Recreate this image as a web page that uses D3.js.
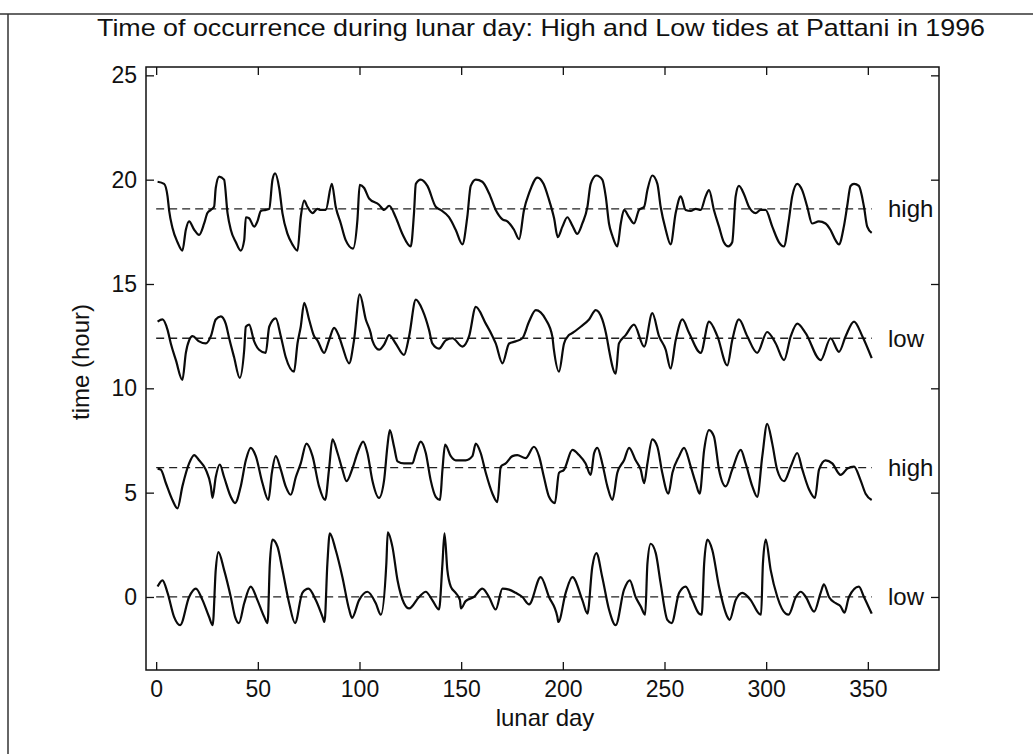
<!DOCTYPE html>
<html>
<head>
<meta charset="utf-8">
<script src="https://cdn.jsdelivr.net/npm/d3@7"></script>
<style>
  body { margin: 0; background: #fff; }
  text { font-family: "Liberation Sans", Arial, sans-serif; fill: #111; }
</style>
</head>
<body>
<svg id="chart" width="1033" height="754"></svg>
<script>
// Tick values and mean levels
const xTicks = [0, 50, 100, 150, 200, 250, 300, 350];
const yTicks = [0, 5, 10, 15, 20, 25];
const meanLevels = [18.6, 12.4, 6.2, 0];
const levelLabels = ["high", "low", "high", "low"];

// Series: [lunar day, hour]
const highLate = [
  [0.7,19.9],[3.9,19.8],[5.6,19.2],[6.4,18.5],[8.0,17.7],[10.5,17.0],[12.9,16.6],[14.6,17.6],[16.2,18.0],
  [18.7,17.6],[21.1,17.35],[23.6,17.9],[25.2,18.4],[26.9,18.55],[28.5,18.7],[29.3,19.6],[31.0,20.15],
  [33.4,20.0],[35.1,18.4],[36.7,17.6],[39.2,17.0],[41.6,16.6],[43.3,17.1],[44.1,18.2],[45.7,18.15],
  [48.2,17.75],[49.8,18.0],[51.5,18.5],[53.9,18.55],[55.6,18.6],[57.2,20.0],[58.5,20.3],[60.5,19.6],
  [62.1,18.4],[64.6,17.4],[67.0,16.9],[69.5,16.6],[71.1,18.2],[72.8,19.0],[74.4,18.7],[76.9,18.4],
  [79.3,18.6],[80.9,18.55],[83.4,18.55],[86.4,19.8],[88.3,18.7],[90.8,17.9],[93.2,17.1],[96.8,16.7],
  [99.0,18.1],[100.1,19.75],[102.3,19.6],[104.7,19.1],[109.6,18.8],[112.1,18.55],[114.6,18.75],
  [117.8,18.2],[121.1,17.4],[125.2,16.8],[126.8,18.4],[127.7,19.8],[130.1,20.0],[133.4,19.7],
  [137.5,18.7],[139.9,18.55],[144.0,18.2],[147.3,17.6],[150.6,16.9],[153.0,18.2],[154.7,19.7],
  [157.2,20.0],[160.4,19.9],[163.7,19.35],[167.0,18.55],[170.3,18.1],[172.7,18.0],[176.0,17.6],
  [178.5,17.15],[180.9,18.55],[183.4,19.35],[187.5,20.1],[190.5,19.8],[193.0,19.1],[195.7,18.15],
  [197.5,17.25],[199.8,17.75],[202.2,18.2],[204.7,17.8],[207.1,17.4],[209.6,17.9],[212.1,18.7],
  [213.7,19.8],[216.5,20.2],[219.4,20.0],[221.1,19.2],[222.7,17.9],[224.4,17.3],[226.8,16.8],
  [228.5,17.9],[230.1,18.55],[232.6,18.2],[235.0,17.9],[237.5,18.55],[240.0,18.7],[241.6,19.5],
  [244.0,20.2],[246.5,19.8],[248.1,18.7],[250.6,17.6],[253.0,16.9],[255.5,18.4],[258.0,19.2],
  [260.4,18.55],[262.9,18.5],[265.4,18.6],[267.8,18.55],[270.2,19.2],[271.9,19.5],[274.3,18.55],
  [276.8,17.75],[279.2,17.0],[281.4,16.8],[283.3,17.0],[285.0,19.2],[286.6,19.7],[289.1,19.3],
  [291.5,18.7],[294.8,18.4],[297.3,18.55],[299.7,18.55],[303.0,17.75],[306.3,17.0],[308.7,16.8],
  [311.2,18.1],[312.8,19.2],[315.3,19.8],[317.7,19.5],[320.2,18.7],[322.6,17.9],[325.9,18.0],
  [329.2,17.9],[331.6,17.6],[334.1,17.1],[335.8,16.9],[338.2,17.75],[339.8,18.7],[341.5,19.7],
  [343.2,19.8],[345.6,19.7],[348.1,18.7],[349.7,17.75],[351.9,17.45]
];

const lowLate = [
  [0.7,13.2],[3.1,13.3],[5.6,12.8],[7.2,12.15],[9.7,11.35],[12.9,10.4],[14.6,11.7],[16.2,12.3],
  [17.9,12.5],[21.1,12.25],[24.4,12.15],[26.9,12.5],[29.3,13.3],[31.8,13.45],[34.2,13.1],[35.9,12.4],
  [38.3,11.5],[41.1,10.5],[43.3,11.85],[44.1,12.95],[45.7,13.05],[48.2,12.25],[50.6,11.85],[53.9,11.7],
  [55.6,12.95],[58.8,13.35],[61.3,12.5],[63.7,11.5],[67.8,10.8],[69.5,12.15],[71.1,12.95],[72.8,14.1],
  [75.2,13.3],[77.7,12.5],[79.3,12.3],[82.6,11.7],[85.0,12.3],[87.5,12.9],[89.9,12.5],[91.6,12.0],
  [94.9,11.2],[97.3,12.3],[100.1,14.5],[103.1,13.3],[105.5,12.65],[106.3,12.3],[109.6,11.85],
  [112.1,12.1],[114.6,12.55],[117.8,12.15],[121.9,11.6],[124.4,12.5],[127.7,14.25],[131.0,13.75],
  [134.2,12.8],[135.8,12.15],[139.1,11.9],[142.4,12.3],[145.7,12.4],[150.6,12.0],[153.9,12.5],
  [157.2,13.9],[162.1,13.1],[165.4,12.5],[167.0,12.15],[170.3,11.2],[173.6,12.15],[176.8,12.25],
  [180.1,12.4],[183.4,13.2],[186.7,13.75],[191.6,13.3],[194.8,12.5],[195.6,11.85],[198.1,10.8],
  [200.6,12.15],[203.0,12.55],[204.7,12.65],[208.8,12.95],[212.9,13.3],[216.2,13.75],[219.4,13.3],
  [221.9,12.3],[222.7,11.85],[226.0,10.7],[227.6,12.15],[230.9,12.55],[235.0,13.05],[240.0,12.0],
  [244.0,13.6],[247.3,12.5],[250.6,11.85],[253.0,10.95],[255.5,12.3],[258.8,13.3],[262.1,12.65],
  [267.8,11.7],[271.9,13.2],[276.0,12.5],[280.9,11.1],[283.3,12.3],[286.6,13.3],[290.7,12.5],
  [295.6,11.7],[300.5,12.7],[304.7,12.15],[308.8,11.35],[312.1,12.5],[315.3,13.1],[319.4,12.65],
  [326.8,11.35],[331.7,12.4],[335.8,11.75],[339.1,12.5],[343.2,13.2],[347.3,12.5],[351.9,11.45]
];

const highEarly = [
  [0.7,6.15],[2.3,6.1],[4.8,5.45],[8.0,4.65],[10.5,4.25],[12.9,5.3],[16.2,6.4],[18.7,6.8],[21.1,6.55],
  [24.4,6.1],[26.9,5.3],[27.7,4.75],[29.3,5.75],[31.3,6.35],[33.4,5.75],[36.7,4.8],[38.8,4.5],
  [41.6,5.3],[44.1,6.55],[46.5,7.15],[49.0,6.75],[52.3,5.45],[55.2,4.65],[56.9,5.95],[58.8,6.75],
  [61.3,6.1],[63.7,5.3],[66.2,4.9],[68.7,5.75],[71.1,6.4],[73.9,7.35],[76.9,6.75],[80.1,5.3],
  [83.1,4.65],[85.0,6.1],[86.7,7.55],[89.2,6.9],[91.6,6.1],[93.6,5.55],[96.5,6.15],[99.0,6.9],
  [101.8,7.45],[103.9,6.9],[106.3,5.6],[109.6,4.75],[112.1,5.6],[113.7,7.2],[114.9,8.0],[117.0,7.2],
  [118.7,6.5],[121.9,6.4],[126.0,6.4],[127.7,6.9],[130.1,7.45],[132.6,6.9],[135.0,5.6],[137.5,4.8],
  [139.6,4.65],[140.8,6.1],[142.1,7.3],[144.9,6.75],[147.3,6.55],[152.2,6.55],[155.5,6.75],
  [157.2,7.35],[159.6,6.9],[162.1,5.95],[165.4,4.95],[167.8,4.55],[169.5,6.25],[171.9,6.4],
  [175.2,6.75],[177.6,6.8],[181.7,6.65],[185.8,7.2],[188.3,6.75],[190.7,5.75],[193.2,4.8],
  [196.1,4.5],[198.1,5.95],[200.6,6.1],[204.7,7.05],[208.0,6.8],[211.2,6.4],[213.7,5.85],[215.4,6.9],
  [217.0,7.15],[219.4,6.4],[221.9,5.3],[224.4,4.65],[226.8,5.95],[230.1,6.55],[232.6,7.15],
  [235.8,6.55],[238.3,6.1],[240.0,5.45],[241.6,6.4],[244.0,7.55],[246.5,7.2],[248.9,5.95],
  [251.9,4.95],[253.9,5.95],[257.2,6.75],[259.6,7.15],[262.9,6.25],[265.4,5.45],[267.3,4.95],
  [269.5,7.05],[271.9,8.0],[274.3,7.7],[276.8,6.1],[280.1,5.3],[283.3,6.1],[287.5,7.05],[289.9,6.4],
  [293.2,5.3],[295.6,4.8],[298.1,6.75],[300.5,8.3],[303.0,7.35],[305.4,6.1],[308.8,5.55],[312.1,6.25],
  [315.3,6.9],[317.8,6.1],[321.1,5.15],[324.0,4.75],[326.0,6.1],[329.2,6.55],[332.5,6.4],[336.6,5.85],
  [339.9,6.15],[343.2,6.25],[346.4,5.6],[348.9,4.95],[351.9,4.65]
];

const lowEarly = [
  [0.7,0.5],[3.1,0.8],[5.6,0.2],[8.8,-0.95],[11.8,-1.35],[16.2,0.0],[19.5,0.4],[22.8,-0.15],
  [26.0,-0.95],[27.8,-1.35],[29.3,1.3],[30.6,2.15],[33.4,1.3],[36.7,0.0],[38.8,-0.95],[40.7,-1.25],
  [43.3,-0.3],[46.5,0.5],[49.8,-0.15],[53.1,-0.95],[54.8,-1.25],[55.9,1.6],[57.2,2.75],[59.7,2.4],
  [62.1,1.3],[65.4,-0.3],[68.3,-1.25],[71.9,0.2],[74.9,0.4],[78.5,-0.15],[81.8,-0.95],[82.8,-1.2],
  [84.2,1.6],[85.4,3.05],[88.3,2.25],[91.6,0.95],[94.9,-0.6],[96.3,-1.0],[99.8,-0.15],[103.9,0.25],
  [108.0,-0.3],[110.5,-0.85],[113.2,1.6],[113.9,3.1],[116.2,2.4],[118.7,0.8],[121.9,-0.3],
  [124.4,-0.55],[129.3,0.0],[132.6,0.25],[135.8,-0.15],[139.1,-0.6],[140.8,1.6],[141.8,3.05],
  [143.2,1.3],[144.9,0.5],[147.3,0.2],[149.4,-0.15],[149.9,-0.55],[152.2,-0.2],[156.3,0.0],
  [160.4,0.4],[163.7,0.0],[167.0,-0.6],[170.3,0.4],[173.6,0.35],[176.8,0.2],[180.1,0.0],
  [183.4,-0.35],[189.1,0.95],[193.2,0.0],[197.3,-0.95],[197.8,-1.2],[201.4,0.2],[204.7,0.95],
  [209.6,-0.15],[212.1,-0.8],[214.5,1.45],[216.5,2.1],[219.4,0.95],[222.7,-0.6],[226.0,-1.35],
  [230.1,0.35],[232.9,0.8],[235.8,0.0],[238.3,-0.45],[240.5,-0.85],[241.6,1.6],[243.2,2.55],
  [245.7,2.1],[248.1,0.65],[251.4,-1.1],[253.5,-1.25],[257.2,0.2],[260.4,0.5],[263.7,-0.15],
  [267.0,-0.8],[268.3,-0.85],[269.5,1.6],[271.1,2.75],[273.5,2.25],[276.8,0.5],[280.9,-0.95],
  [282.0,-1.1],[285.0,-0.15],[288.3,0.2],[292.4,-0.15],[296.5,-0.8],[297.5,-0.85],[298.4,1.6],
  [299.8,2.75],[302.2,1.3],[305.5,0.0],[309.6,-0.8],[311.0,-0.85],[314.6,0.0],[317.0,0.25],
  [319.5,0.0],[323.6,-0.7],[326.8,0.2],[328.4,0.6],[330.9,0.0],[334.2,-0.3],[336.6,-0.45],
  [338.5,-0.75],[340.7,0.0],[345.6,0.5],[348.1,0.0],[351.9,-0.8]
];

const series = [highLate, lowLate, highEarly, lowEarly];

// Layout
const svg = d3.select("#chart");
const x = d3.scaleLinear().domain([-5, 385]).range([146, 939]);
const y = d3.scaleLinear().domain([-3.5, 25.4]).range([670, 67]);

svg.append("rect").attr("width", 1033).attr("height", 754).attr("fill", "#fff");

// Scan frame lines around the figure
svg.append("line").attr("x1", 0).attr("x2", 1033).attr("y1", 14).attr("y2", 14)
  .attr("stroke", "#333").attr("stroke-width", 1.5);
svg.append("line").attr("x1", 8).attr("x2", 8).attr("y1", 14).attr("y2", 754)
  .attr("stroke", "#333").attr("stroke-width", 1.5);

// Axes (ticks inside, on all four sides)
const axisB = svg.append("g").attr("transform", "translate(0,670)")
  .call(d3.axisBottom(x).tickValues(xTicks).tickSize(-8).tickPadding(11));
const axisL = svg.append("g").attr("transform", "translate(146,0)")
  .call(d3.axisLeft(y).tickValues(yTicks).tickSize(-8).tickPadding(9));
const axisT = svg.append("g").attr("transform", "translate(0,67)")
  .call(d3.axisTop(x).tickValues(xTicks).tickSize(-8).tickFormat(""));
const axisR = svg.append("g").attr("transform", "translate(939,0)")
  .call(d3.axisRight(y).tickValues(yTicks).tickSize(-8).tickFormat(""));

[axisB, axisL, axisT, axisR].forEach(g => {
  g.select(".domain").remove();
  g.selectAll("line").attr("stroke", "#111").attr("stroke-width", 1.3);
  g.selectAll("text").attr("font-size", 23).attr("fill", "#111")
    .style("font-family", '"Liberation Sans", Arial, sans-serif');
});

svg.append("rect")
  .attr("x", x.range()[0]).attr("y", y.range()[1])
  .attr("width", x.range()[1] - x.range()[0])
  .attr("height", y.range()[0] - y.range()[1])
  .attr("fill", "none").attr("stroke", "#111").attr("stroke-width", 1.5);

// Mean levels (dashed)
svg.append("g").selectAll("line")
  .data(meanLevels)
  .enter().append("line")
  .attr("x1", x(0)).attr("x2", x(352))
  .attr("y1", d => y(d)).attr("y2", d => y(d))
  .attr("stroke", "#222").attr("stroke-width", 1.3)
  .attr("stroke-dasharray", "8,5");

// Tide curves
const line = d3.line()
  .x(d => x(d[0]))
  .y(d => y(d[1]))
  .curve(d3.curveMonotoneX);

svg.append("g").selectAll("path")
  .data(series)
  .enter().append("path")
  .attr("d", line)
  .attr("fill", "none")
  .attr("stroke", "#0a0a0a")
  .attr("stroke-width", 2.2)
  .attr("stroke-linejoin", "round");

// high / low labels
svg.append("g").selectAll("text")
  .data(meanLevels)
  .enter().append("text")
  .attr("x", 888)
  .attr("y", d => y(d))
  .attr("dy", "0.35em")
  .attr("font-size", 24)
  .text((d, i) => levelLabels[i]);

// Title and axis labels
svg.append("text")
  .attr("x", 541).attr("y", 36)
  .attr("text-anchor", "middle")
  .attr("font-size", 24)
  .attr("textLength", 888)
  .attr("lengthAdjust", "spacingAndGlyphs")
  .text("Time of occurrence during lunar day: High and Low tides at Pattani in 1996");

svg.append("text")
  .attr("x", 545).attr("y", 726)
  .attr("text-anchor", "middle")
  .attr("font-size", 24)
  .text("lunar day");

svg.append("text")
  .attr("transform", "translate(89,362) rotate(-90)")
  .attr("text-anchor", "middle")
  .attr("font-size", 24)
  .text("time (hour)");
</script>
</body>
</html>
